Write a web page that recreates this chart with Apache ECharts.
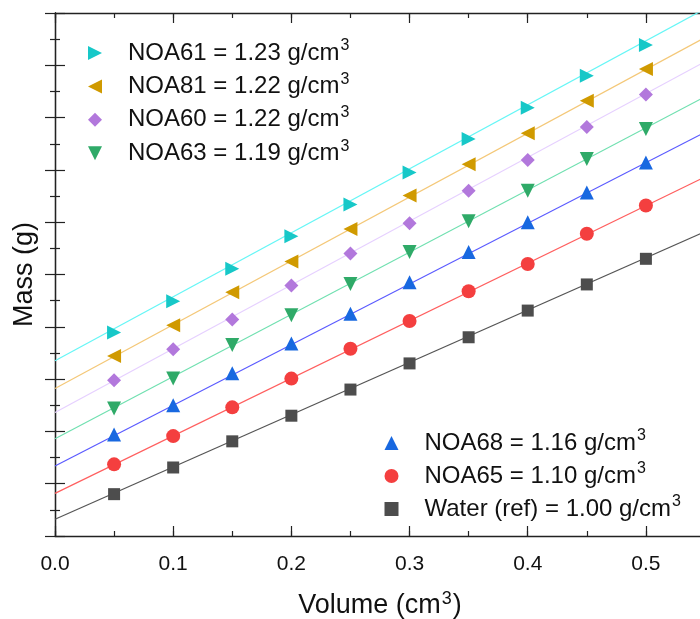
<!DOCTYPE html>
<html>
<head>
<meta charset="utf-8">
<script src="https://cdn.jsdelivr.net/npm/echarts@6/dist/echarts.min.js"></script>
<style>html,body{margin:0;padding:0;background:#fff}#c{width:700px;height:619px}</style>
</head>
<body>
<div id="c"></div>
<script>
// Volumes (cm^3) of the measured points
var volumes = [0.05, 0.10, 0.15, 0.20, 0.25, 0.30, 0.35, 0.40, 0.45, 0.50];
var xTickLabels = ['0.0', '0.1', '0.2', '0.3', '0.4', '0.5'];

// Series (top legend group first, then bottom group)
var seriesNames = ['NOA61 = 1.23 g/cm', 'NOA81 = 1.22 g/cm', 'NOA60 = 1.22 g/cm', 'NOA63 = 1.19 g/cm',
                   'NOA68 = 1.16 g/cm', 'NOA65 = 1.10 g/cm', 'Water (ref) = 1.00 g/cm'];

// Measured masses (g, offset per material as in the figure)
var massNOA61 = [0.389, 0.449, 0.511, 0.573, 0.634, 0.695, 0.759, 0.819, 0.880, 0.939];
var massNOA81 = [0.344, 0.403, 0.466, 0.525, 0.587, 0.651, 0.711, 0.770, 0.832, 0.893];
var massNOA60 = [0.298, 0.357, 0.414, 0.479, 0.540, 0.598, 0.660, 0.719, 0.782, 0.844];
var massNOA63 = [0.244, 0.301, 0.365, 0.422, 0.482, 0.543, 0.602, 0.660, 0.721, 0.778];
var massNOA68 = [0.194, 0.250, 0.311, 0.368, 0.425, 0.485, 0.543, 0.600, 0.657, 0.714];
var massNOA65 = [0.137, 0.191, 0.246, 0.301, 0.358, 0.411, 0.468, 0.520, 0.578, 0.632];
var massWater = [0.080, 0.131, 0.181, 0.230, 0.280, 0.330, 0.380, 0.431, 0.481, 0.530];

// Fitted lines: volume range and mass at both ends
var fitVolumes = [0, 0.55];
var fitNOA61 = [0.335, 1.008];
var fitNOA81 = [0.282, 0.953];
var fitNOA60 = [0.236, 0.907];
var fitNOA63 = [0.186, 0.840];
var fitNOA68 = [0.134, 0.772];
var fitNOA65 = [0.0815, 0.6865];
var fitWater = [0.032, 0.582];

var masses = [massNOA61, massNOA81, massNOA60, massNOA63, massNOA68, massNOA65, massWater];
var fits = [fitNOA61, fitNOA81, fitNOA60, fitNOA63, fitNOA68, fitNOA65, fitWater];

var markerColors = ['#17C8C8', '#D09A00', '#B278DC', '#2FAA68', '#1868E0', '#F43F3F', '#4D4D4D'];
var lineColors = ['#66F6F6', '#F4C878', '#E6D0FF', '#70E0B0', '#5A5AFF', '#FF5F5F', '#555555'];
var symbols = ['triangle', 'triangle', 'diamond', 'triangle', 'triangle', 'circle', 'rect'];
var rotations = [-90, 90, 0, 180, 0, 0, 0];
var sizes = [14, 14, 14, 14, 14, 14, 12];
var legendIcons = ['path://M0,0L10,5L0,10Z', 'path://M10,0L0,5L10,10Z', 'diamond',
                   'path://M0,0L10,0L5,10Z', 'triangle', 'circle', 'path://M1,1L9,1L9,9L1,9Z'];

var FONT = '"Liberation Sans", Arial, sans-serif';
var chart = echarts.init(document.getElementById('c'), null, {renderer: 'canvas'});

var series = [];
fits.forEach(function (f, i) {
  series.push({
    type: 'line', name: 'fit' + i, silent: true, showSymbol: false, symbol: 'none',
    data: fitVolumes.map(function (v, j) { return [v, f[j]]; }),
    lineStyle: {color: lineColors[i], width: 1.2}, z: 2, animation: false
  });
});
masses.forEach(function (m, i) {
  series.push({
    type: 'scatter', name: seriesNames[i],
    data: volumes.map(function (v, j) { return [v, m[j]]; }),
    symbol: symbols[i], symbolRotate: rotations[i], symbolSize: sizes[i],
    itemStyle: {color: markerColors[i], opacity: 1}, z: 5, animation: false
  });
});

function isMajor(v) { var t = v * 10; return Math.abs(Math.round(t) - t) < 1e-6; }

var axisLine = {show: true, lineStyle: {color: '#222', width: 1.3}};
var legendText = {
  fontFamily: FONT, fontSize: 24, color: '#111',
  rich: {
    t: {fontFamily: FONT, fontSize: 24, color: '#111', lineHeight: 30, padding: [0, 0, 0, 21]},
    s: {fontFamily: FONT, fontSize: 16, color: '#111', verticalAlign: 'top', padding: [0, 0, 0, 1]}
  }
};
function legendFmt(name) { return '{t|' + name + '}{s|3}'; }
function legendData(from, to) {
  var out = [];
  for (var i = from; i < to; i++) out.push({name: seriesNames[i], icon: legendIcons[i]});
  return out;
}

chart.setOption({
  animation: false,
  backgroundColor: '#fff',
  grid: {left: 55, top: 13, width: 650, height: 523, outerBoundsMode: 'none', containLabel: false},
  legend: [
    {data: legendData(0, 4), orient: 'vertical', left: 88, top: 38, padding: 0,
     itemWidth: 14, itemHeight: 14, itemGap: 6.4, textStyle: legendText, formatter: legendFmt,
     selectedMode: false},
    {data: legendData(4, 7), orient: 'vertical', left: 384.5, top: 428, padding: 0,
     itemWidth: 14, itemHeight: 14, itemGap: 6, textStyle: legendText, formatter: legendFmt,
     selectedMode: false}
  ],
  xAxis: [
    {type: 'value', position: 'bottom', min: 0, max: 0.55, interval: 0.05,
     axisLine: axisLine, splitLine: {show: false},
     axisTick: {show: true, inside: true, length: 5, lineStyle: {color: '#222', width: 1.2}},
     axisLabel: {show: true, margin: 18, fontFamily: FONT, fontSize: 21, color: '#111',
       formatter: function (v) { return (isMajor(v) && v < 0.52) ? xTickLabels[Math.round(v * 10)] : ''; }},
     name: '{t|Volume (cm}{s|3}{t|)}', nameLocation: 'middle', nameGap: 54,
     nameTextStyle: {fontFamily: FONT, fontSize: 27, color: '#111',
       rich: {t: {fontFamily: FONT, fontSize: 27, color: '#111', lineHeight: 32},
              s: {fontFamily: FONT, fontSize: 18, color: '#111', verticalAlign: 'top', padding: [0, 1, 0, 1]}}}},
    {type: 'value', position: 'bottom', min: 0, max: 0.55, interval: 0.1,
     axisLine: {show: false}, splitLine: {show: false}, axisLabel: {show: false},
     axisTick: {show: true, inside: true, length: 10, lineStyle: {color: '#222', width: 1.2}}},
    {type: 'value', position: 'top', min: 0, max: 0.55, interval: 0.05,
     axisLine: axisLine, splitLine: {show: false}, axisLabel: {show: false},
     axisTick: {show: true, inside: true, length: 5, lineStyle: {color: '#222', width: 1.2}}},
    {type: 'value', position: 'top', min: 0, max: 0.55, interval: 0.1,
     axisLine: {show: false}, splitLine: {show: false}, axisLabel: {show: false},
     axisTick: {show: true, inside: true, length: 10, lineStyle: {color: '#222', width: 1.2}}}
  ],
  yAxis: [
    {type: 'value', position: 'left', min: 0, max: 1.0, interval: 0.1,
     axisLine: axisLine, splitLine: {show: false}, axisLabel: {show: false},
     axisTick: {show: true, inside: true, length: 10, lineStyle: {color: '#222', width: 1.2}},
     minorTick: {show: true, splitNumber: 2, length: 5, lineStyle: {color: '#222', width: 1.2}},
     name: 'Mass (g)', nameLocation: 'middle', nameGap: 17,
     nameTextStyle: {fontFamily: FONT, fontSize: 27, color: '#111'}},
    {type: 'value', position: 'right', min: 0, max: 1.0, interval: 0.1,
     axisLine: axisLine, splitLine: {show: false}, axisLabel: {show: false},
     axisTick: {show: true, inside: true, length: 10, lineStyle: {color: '#222', width: 1.2}},
     minorTick: {show: true, splitNumber: 2, length: 5, lineStyle: {color: '#222', width: 1.2}}}
  ],
  series: series
});
</script>
</body>
</html>
